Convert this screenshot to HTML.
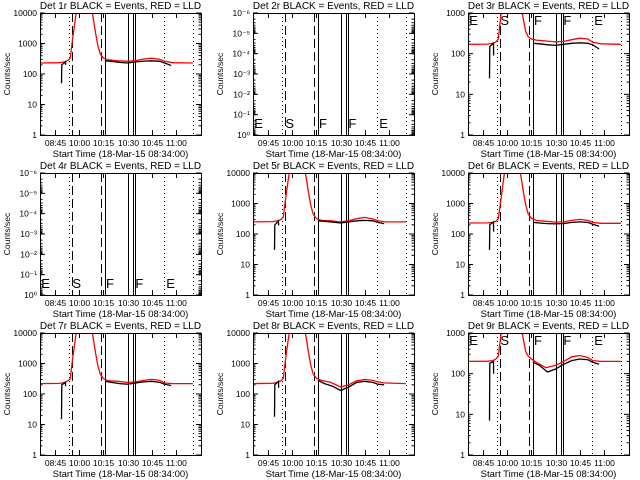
<!DOCTYPE html>
<html><head><meta charset="utf-8"><style>
html,body{margin:0;padding:0;background:#fff;}
svg{display:block;font-family:"Liberation Sans",sans-serif;}
</style></head><body>
<svg id="fig" width="640" height="480" viewBox="0 0 640 480" xmlns="http://www.w3.org/2000/svg"></svg>
<script>
// ---- data (minutes after 09:00) ----
const panelNames = ["1r","2r","3r","4r","5r","6r","7r","8r","9r"];
const yMaxes = [10000,1,1000,1,10000,10000,10000,10000,1000];
const redTimes = [35.7,48,51,53,54.5,56,57.5,59,67,68.5,70,71.5,73,75,78,84,90,95,100,105,110,113,118,130.5];
const blackTimes = [49,49.2,51.5,51.6,52,76,80,85,90,95,100,105,110,113,117];
const red1 = [230,235,250,280,340,1500,6000,20000,20000,8000,2500,900,450,330,290,270,260,275,310,330,300,260,235,230];
const black1 = [50,200,250,200,null,270,260,240,230,250,265,270,260,230,190];
const red3 = [170,172,180,195,230,800,3000,5000,5000,1500,700,350,260,230,215,205,195,200,220,240,230,190,175,170];
const black3 = [25,150,180,90,null,180,175,165,160,170,180,185,180,165,130];
const red5 = [250,255,270,300,360,1500,6000,20000,20000,8000,2500,900,450,320,280,270,250,270,320,350,310,270,250,250];
const black5 = [30,200,260,190,null,270,260,245,230,250,270,280,270,240,220];
const red6 = [230,232,240,260,320,1200,5000,20000,20000,8000,2500,900,450,330,280,260,245,250,280,300,280,240,225,225];
const black6 = [30,200,250,120,null,240,230,220,215,220,240,250,240,210,180];
const red7 = [220,222,240,270,320,1500,6000,20000,20000,8000,2500,900,450,320,270,260,240,250,280,300,280,230,220,220];
const black7 = [15,200,240,180,null,260,240,220,210,230,250,260,240,210,190];
const red8 = [220,225,240,270,330,1500,6000,20000,20000,8000,2500,900,450,330,280,240,170,200,270,300,280,250,230,220];
const black8 = [18,200,260,160,null,280,220,180,130,170,240,260,240,210,200];
const red9 = [200,202,210,230,270,800,3000,5000,5000,1500,700,350,270,230,190,140,160,200,260,280,250,210,200,200];
const black9 = [7,180,200,100,null,190,160,110,130,170,210,230,220,190,170];
const redSeries = [red1,null,red3,null,red5,red6,red7,red8,red9];
const blackSeries = [black1,null,black3,null,black5,black6,black7,black8,black9];
const tickTimes = [45,60,75,90,105,120];
const tickLabelsA = ["09:45","10:00","10:15","10:30","10:45","11:00"];
const tickLabelsB = ["08:45","10:00","10:15","10:30","10:45","11:00"];
const dottedTimes = [53.7,112.6,130.5];
const dashedTimes = [55.5,73.5];
const solidTimes = [76,90.3,93.4,94.6];
const markerLetters = ["E","S","F","F","E"];
const markerTimes = [36.5,55.8,76.6,94.8,114];
const logExpLabels = ["10\u207B\u2076","10\u207B\u2075","10\u207B\u2074","10\u207B\u00B3","10\u207B\u00B2","10\u207B\u00B9","10\u2070"];

const NS="http://www.w3.org/2000/svg";
const svg=document.getElementById('fig');
function mk(tag,attrs,parent){const e=document.createElementNS(NS,tag);for(const k in attrs)e.setAttribute(k,attrs[k]);(parent||svg).appendChild(e);return e;}

const colLeft=[40,253,468], rowTop=[13,173,333];
const W=161,H=122,T0=35.7,PXM=1.613;

for(let p=0;p<9;p++){
  const L=colLeft[p%3], Tp=rowTop[Math.floor(p/3)], B=Tp+H, R=L+W;
  const g=mk('g',{});
  
  
  const xs=t=>L+(t-T0)*PXM;
  const xr=t=>Math.round(xs(t))+0.5;
  const empty=yMaxes[p]===1;
  const lmax=Math.log10(yMaxes[p]);
  const ys=v=>B-(Math.log10(v))/(lmax)*H;
  const clipId='clip'+p;
  const cp=mk('clipPath',{id:clipId},g);mk('rect',{x:L,y:Tp,width:W,height:H},cp);
  const tt=mk('text',{x:L+W/2,y:Tp-4,'font-size':10,'text-anchor':'middle'},g);
  tt.textContent='Det '+panelNames[p]+' BLACK = Events, RED = LLD';
  
  
  const yt=mk('text',{x:0,y:0,'font-size':8.5,'text-anchor':'middle',transform:`translate(${L-30},${Tp+H/2}) rotate(-90)`},g);
  yt.textContent='Counts/sec';
  
  
  const xt=mk('text',{x:L+W/2,y:B+22,'font-size':9.5,'text-anchor':'middle'},g);
  xt.textContent='Start Time (18-Mar-15 08:34:00)';
  
  
  const labs=(p%3===1)?tickLabelsA:tickLabelsB;
  tickTimes.forEach((t,i)=>{
    const x=xr(t);
    mk('line',{x1:x,x2:x,y1:B,y2:B-5,stroke:'#000','shape-rendering':'crispEdges'},g);
    mk('line',{x1:x,x2:x,y1:Tp,y2:Tp+5,stroke:'#000','shape-rendering':'crispEdges'},g);
    const tl=mk('text',{x:x,y:B+11,'font-size':8.5,'text-anchor':'middle'},g);
    tl.textContent=labs[i];
    
    
  });
  if(empty){
    for(let k=0;k<=6;k++){
      const y=Tp+k*H/6;
      mk('line',{x1:L,x2:L+5,y1:y,y2:y,stroke:'#000'},g);
      mk('line',{x1:R,x2:R-5,y1:y,y2:y,stroke:'#000'},g);
      for(let m=1;m<10&&k<6;m++){const yy=y+Math.log10(m)*H/6;mk('line',{x1:L,x2:L+2.5,y1:yy,y2:yy,stroke:'#000'},g);mk('line',{x1:R,x2:R-2.5,y1:yy,y2:yy,stroke:'#000'},g);}
      const yl=mk('text',{x:L-3,y:y+3,'font-size':8.5,'text-anchor':'end'},g);
      yl.textContent=logExpLabels[k];
      
      
    }
  } else {
    for(let d=0;d<=lmax;d++){
      const v=Math.pow(10,d), y=ys(v);
      mk('line',{x1:L,x2:L+5,y1:y,y2:y,stroke:'#000'},g);
      mk('line',{x1:R,x2:R-5,y1:y,y2:y,stroke:'#000'},g);
      if(d<lmax)for(let m=2;m<10;m++){const yy=ys(v*m);mk('line',{x1:L,x2:L+2.5,y1:yy,y2:yy,stroke:'#000'},g);mk('line',{x1:R,x2:R-2.5,y1:yy,y2:yy,stroke:'#000'},g);}
      const yl=mk('text',{x:L-3,y:y+3,'font-size':8.5,'text-anchor':'end'},g);
      yl.textContent=String(v);
      
      
    }
  }
  dottedTimes.forEach(t=>mk('line',{x1:xr(t),x2:xr(t),y1:Tp,y2:B,stroke:'#000','stroke-dasharray':'1,3','shape-rendering':'crispEdges'},g));
  dashedTimes.forEach(t=>mk('line',{x1:xr(t),x2:xr(t),y1:Tp,y2:B,stroke:'#000','stroke-dasharray':'9,4','shape-rendering':'crispEdges'},g));
  solidTimes.forEach(t=>mk('line',{x1:xr(t),x2:xr(t),y1:Tp,y2:B,stroke:'#000','stroke-width':1.2,'shape-rendering':'crispEdges'},g));
  if(empty || lmax===3){
    markerLetters.forEach((s,i)=>{
      const yy=empty?B-7:Tp+12;
      const ml=mk('text',{x:xs(markerTimes[i]),y:yy,'font-size':13},g);
      ml.textContent=s;
      
      
    });
  }
  const drawSeries=(times,vals,color,name)=>{
    let d='',pen=false;
    vals.forEach((v,i)=>{
      if(v===null){pen=false;return;}
      d+=(pen?'L':'M')+xs(times[i]).toFixed(1)+','+ys(v).toFixed(1)+' ';pen=true;
    });
    const pth=mk('path',{d:d,fill:'none',stroke:color,'stroke-width':1.3,'clip-path':`url(#${clipId})`},g);
    
    
  };
  if(redSeries[p])drawSeries(redTimes,redSeries[p],'#ff0000','lld-series-red');
  if(blackSeries[p])drawSeries(blackTimes,blackSeries[p],'#000','events-series-black');
  const fr=mk('rect',{x:L+0.5,y:Tp+0.5,width:W,height:H,fill:'none',stroke:'#000','stroke-width':1,'shape-rendering':'crispEdges'},g);
  
  
}
</script>
</body></html>
